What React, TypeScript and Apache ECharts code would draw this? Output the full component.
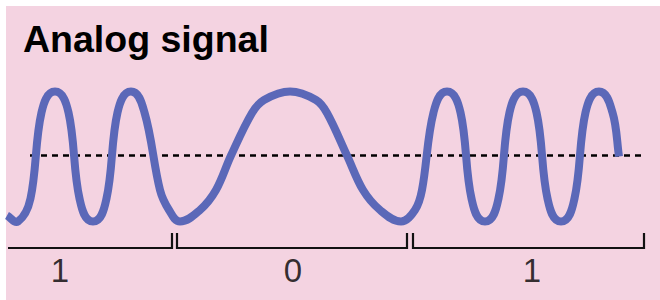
import React, { useEffect, useRef } from "react";
import * as echarts from "echarts";

// Signal key points: [time, level]
const bit1aPoints: number[][] = [
  [7, -60], [18, -66],
  [30.5, -43], [41.5, 43], [55, 64], [68.5, 43], [79.5, -43], [93, -66],
  [106.5, -43], [117.5, 43], [131, 64], [144.5, 43], [160, -34.5], [169, -54.5], [180, -66],
];
const bit0Points: number[][] = [
  [200, -54.5], [216, -34.5], [231, 0], [252, 42.5], [264, 55.5], [290, 64],
  [316, 55.5], [327, 42.5], [347, 0], [363, -34.5], [380, -54.5], [401, -66],
];
const bit1bPoints: number[][] = [
  [415, -54.5], [422, -34.5], [433.5, 43], [447, 64], [460.5, 43], [471.5, -43], [485, -66],
  [498.5, -43], [509.5, 43], [523, 64], [536.5, 43], [547.5, -43], [561, -66],
  [574.5, -43], [585.5, 43], [599, 64], [612.5, 43], [619, -1],
];

const thresholdRange = [30, 643];
const bitLabels = ["1", "0", "1"];
const bitStart = [8, 177, 413];
const bitEnd = [172, 407, 644];
const bitLeftTick = [false, true, true];
const bitLabelTime = [60, 293, 532];

const BRACKET_BASE = -92.5;
const BRACKET_TOP = -77.5;
const LABEL_LEVEL = -114.5;
const TENSION = 0.34;

export default function App() {
  const ref = useRef<HTMLDivElement>(null);
  useEffect(() => {
    document.body.style.margin = "0";
    const chart = echarts.init(ref.current!, undefined, { renderer: "svg" });
    const signal = [...bit1aPoints, ...bit0Points, ...bit1bPoints];
    const bracketSeries = bitLabels.map((_, i) => {
      const pts: number[][] = [];
      if (bitLeftTick[i]) pts.push([bitStart[i], BRACKET_TOP]);
      pts.push([bitStart[i], BRACKET_BASE]);
      pts.push([bitEnd[i], BRACKET_BASE]);
      pts.push([bitEnd[i], BRACKET_TOP]);
      return {
        type: "line",
        data: pts,
        symbol: "none",
        silent: true,
        lineStyle: { color: "#111", width: 2.2, cap: "butt", join: "miter" },
        z: 3,
      };
    });
    const renderSignal = (params: any, api: any) => {
      if (params.dataIndex !== 0) return null;
      const pts = signal.map((p) => api.coord(p) as number[]);
      const n = pts.length;
      const dirs = pts.map((_, i) => {
        const a = pts[Math.max(0, i - 1)];
        const b = pts[Math.min(n - 1, i + 1)];
        const dx = b[0] - a[0];
        const dy = b[1] - a[1];
        const len = Math.hypot(dx, dy) || 1;
        return [dx / len, dy / len];
      });
      let d = `M${pts[0][0]},${pts[0][1]}`;
      for (let i = 0; i < n - 1; i++) {
        const p = pts[i];
        const q = pts[i + 1];
        const L = Math.hypot(q[0] - p[0], q[1] - p[1]) * TENSION;
        const c1 = [p[0] + dirs[i][0] * L, p[1] + dirs[i][1] * L];
        const c2 = [q[0] - dirs[i + 1][0] * L, q[1] - dirs[i + 1][1] * L];
        d += ` C${c1[0]},${c1[1]} ${c2[0]},${c2[1]} ${q[0]},${q[1]}`;
      }
      return {
        type: "path",
        shape: { pathData: d },
        style: { fill: "none", stroke: "#5B68B8", lineWidth: 8, lineJoin: "round" },
      };
    };
    chart.setOption({
      animation: false,
      backgroundColor: "#ffffff",
      title: {
        text: "Analog signal",
        left: 23,
        top: 19.5,
        padding: 0,
        textStyle: {
          fontFamily: "Liberation Sans, Arial, sans-serif",
          fontWeight: "bold",
          fontSize: 37.5,
          lineHeight: 38,
          color: "#000",
        },
      },
      grid: {
        show: true,
        left: 6,
        top: 6,
        right: 0,
        bottom: 0,
        backgroundColor: "#F4D3E1",
        borderWidth: 0,
      },
      xAxis: { type: "value", min: 6, max: 660, show: false },
      yAxis: { type: "value", min: -144.5, max: 149.5, show: false },
      series: [
        {
          type: "line",
          data: [
            [thresholdRange[0], 0],
            [thresholdRange[1], 0],
          ],
          symbol: "none",
          silent: true,
          lineStyle: { color: "#000", width: 2.4, type: [6, 5] },
          z: 2,
        },
        {
          type: "custom",
          data: signal,
          encode: { x: 0, y: 1 },
          renderItem: renderSignal,
          silent: true,
          z: 4,
        },
        ...bracketSeries,
        {
          type: "scatter",
          data: bitLabels.map((t, i) => ({ value: [bitLabelTime[i], LABEL_LEVEL], name: t })),
          symbolSize: 1,
          itemStyle: { color: "rgba(0,0,0,0)" },
          silent: true,
          label: {
            show: true,
            position: "inside",
            formatter: (p: any) => p.name,
            fontFamily: "Liberation Sans, Arial, sans-serif",
            fontSize: 33,
            color: "#000",
          },
          z: 5,
        },
      ],
    });
    return () => chart.dispose();
  }, []);
  return <div ref={ref} style={{ width: 660, height: 300 }} />;
}
